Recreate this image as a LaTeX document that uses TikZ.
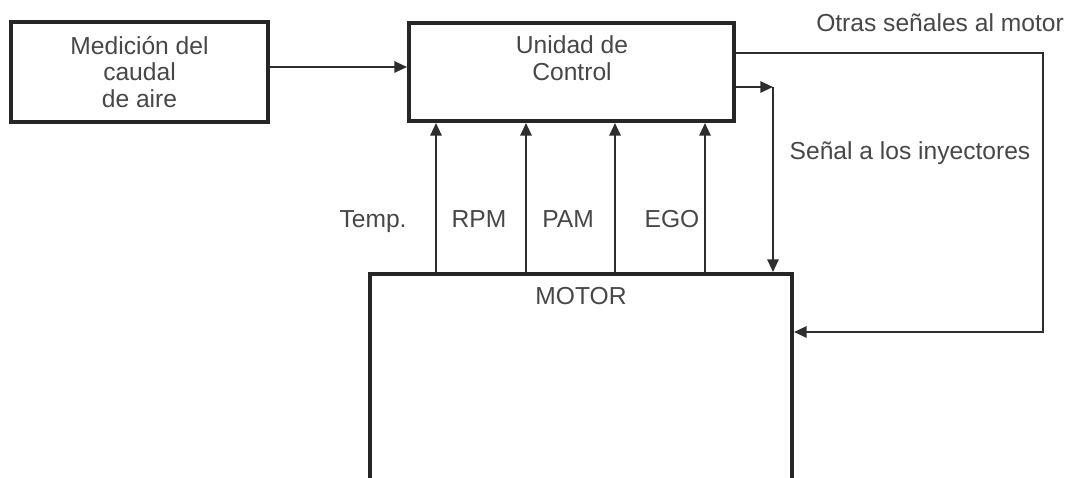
\documentclass[tikz,border=0pt]{standalone}
\usepackage{fontspec}
\setmainfont{Liberation Sans}
\usetikzlibrary{positioning,arrows.meta}
\definecolor{txtgray}{HTML}{474747}
\definecolor{linegray}{HTML}{2E2E2E}
\begin{document}
\begin{tikzpicture}[line width=1.5pt,draw=linegray,
  sig/.style={-{Triangle[length=9pt,width=8pt]}},
  every node/.style={text=txtgray,font=\fontsize{17.5}{19}\selectfont},
  blockbox/.style={draw=black!85,line width=2.8pt,align=center,inner sep=0pt}]
\clip (0,0) rectangle (26.95,11.95);
\node[blockbox,minimum width=6.425cm,minimum height=2.5cm] (aire) at (3.4875,10.15) {Medición del\\caudal\\de aire};
\node[blockbox,minimum width=8.125cm,minimum height=2.45cm] (ctrl) at (14.2875,10.15) {};
\node[align=center] (ctrltxt) at (14.3,10.5) {Unidad de\\Control};
\node[blockbox,minimum width=10.55cm,minimum height=6.5cm] (motor) at (14.525,1.85) {};
\node (motortxt) at ([yshift=-0.6cm]motor.north) {MOTOR};
\draw[sig] (aire.east|-0,10.275) -- (ctrl.west|-0,10.275);
\foreach \x/\lx/\lab in {10.9/9.325/Temp.,13.15/11.975/RPM,15.375/14.2/PAM,17.625/16.8/EGO}{
  \draw[sig] (motor.north-|\x,0) -- (ctrl.south-|\x,0);
  \node[anchor=base] (lab\lab) at (\lx,6.25) {\lab};
}
\coordinate (iny) at (19.325,9.775);
\draw[sig] (ctrl.east|-iny) -- (iny);
\draw[sig] (iny) -- (motor.north-|iny);
\node (inytxt) at (22.75,8.125) {Señal a los inyectores};
\coordinate (otrasA) at (26.075,10.625);
\coordinate (otrasB) at (26.075,3.65);
\draw[sig] (ctrl.east|-otrasA) -- (otrasA) -- (otrasB) -- (motor.east|-otrasB);
\node (otrastxt) at (23.5,11.375) {Otras señales al motor};
\end{tikzpicture}
\end{document}
